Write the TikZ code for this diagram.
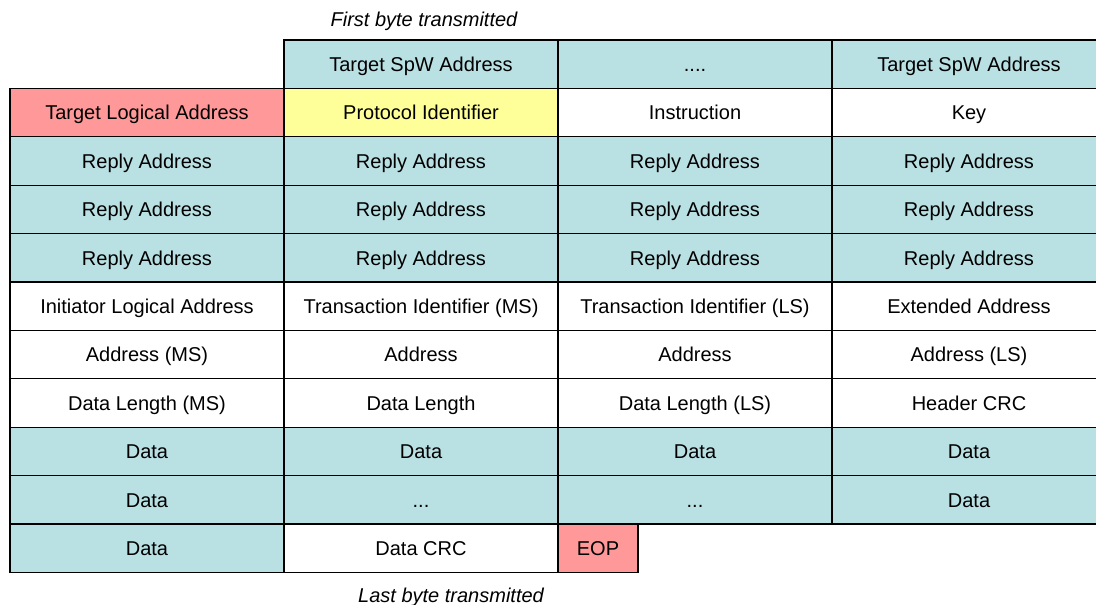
\documentclass[tikz,border=0pt]{standalone}
\usepackage{fontspec}
\setmainfont{Liberation Sans}
\definecolor{cellteal}{HTML}{B9E0E3}
\definecolor{pinkred}{HTML}{FF9999}
\definecolor{paleyellow}{HTML}{FFFF99}
\begin{document}
\begin{tikzpicture}[x=1pt,y=-1pt,
  cell/.style={draw=black, line width=1.2pt, minimum width=274pt, minimum height=48.4pt,
    inner sep=0pt, outer sep=0pt, text height=15.6pt, text depth=1.2pt,
    font=\fontsize{20}{24}\selectfont},
  tl/.style={cell, fill=cellteal},
  wh/.style={cell, fill=white},
  rd/.style={cell, fill=pinkred},
  yl/.style={cell, fill=paleyellow},
  captxt/.style={font=\fontsize{20}{24}\selectfont\itshape, inner sep=0pt,
    text height=15.6pt, text depth=1.2pt}]
\useasboundingbox[fill=white] (0,0) rectangle (1096,605);
% row 0
\node[tl] (r0c2) at (421,64.2) {Target SpW Address};
\node[tl] (r0c3) at (695,64.2) {....};
\node[tl] (r0c4) at (969,64.2) {Target SpW Address};
% row 1
\node[rd] (r1c1) at (147,112.6) {Target Logical Address};
\node[yl] (r1c2) at (421,112.6) {Protocol Identifier};
\node[wh] (r1c3) at (695,112.6) {Instruction};
\node[wh] (r1c4) at (969,112.6) {Key};
% rows 2-4
\foreach \r/\y in {2/161,3/209.4,4/257.8}{
  \node[tl] (r\r c1) at (147,\y) {Reply Address};
  \node[tl] (r\r c2) at (421,\y) {Reply Address};
  \node[tl] (r\r c3) at (695,\y) {Reply Address};
  \node[tl] (r\r c4) at (969,\y) {Reply Address};
}
% row 5
\node[wh] (r5c1) at (147,306.2) {Initiator Logical Address};
\node[wh] (r5c2) at (421,306.2) {Transaction Identifier (MS)};
\node[wh] (r5c3) at (695,306.2) {Transaction Identifier (LS)};
\node[wh] (r5c4) at (969,306.2) {Extended Address};
% row 6
\node[wh] (r6c1) at (147,354.6) {Address (MS)};
\node[wh] (r6c2) at (421,354.6) {Address};
\node[wh] (r6c3) at (695,354.6) {Address};
\node[wh] (r6c4) at (969,354.6) {Address (LS)};
% row 7
\node[wh] (r7c1) at (147,403) {Data Length (MS)};
\node[wh] (r7c2) at (421,403) {Data Length};
\node[wh] (r7c3) at (695,403) {Data Length (LS)};
\node[wh] (r7c4) at (969,403) {Header CRC};
% row 8
\node[tl] (r8c1) at (147,451.4) {Data};
\node[tl] (r8c2) at (421,451.4) {Data};
\node[tl] (r8c3) at (695,451.4) {Data};
\node[tl] (r8c4) at (969,451.4) {Data};
% row 9
\node[tl] (r9c1) at (147,499.8) {Data};
\node[tl] (r9c2) at (421,499.8) {...};
\node[tl] (r9c3) at (695,499.8) {...};
\node[tl] (r9c4) at (969,499.8) {Data};
% row 10
\node[tl] (r10c1) at (147,548.2) {Data};
\node[wh] (r10c2) at (421,548.2) {Data CRC};
\node[rd, minimum width=80pt] (eop) at (598,548.2) {EOP};
% captions
\node[captxt] (first) at (424,19) {First byte transmitted};
\node[captxt] (last) at (451,595) {Last byte transmitted};
\end{tikzpicture}
\end{document}
